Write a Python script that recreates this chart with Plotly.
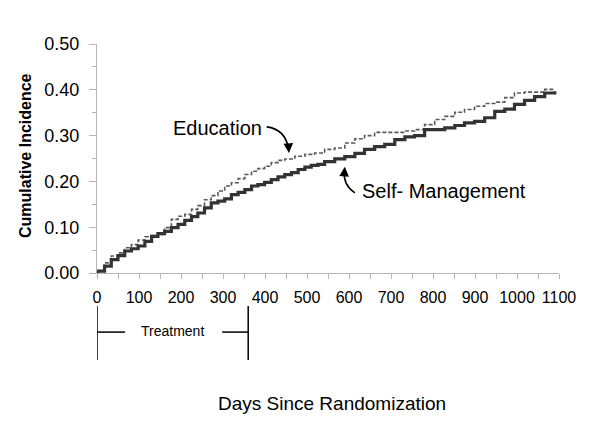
import plotly.graph_objects as go

# Education arm (dashed)
edu_days = [0, 2, 18, 34, 50, 66, 82, 98, 114, 130, 145, 161, 177, 193, 209, 225, 240, 256, 272, 288,
            304, 320, 336, 352, 368, 383, 399, 415, 431, 447, 471, 495, 518, 542, 566, 590, 614, 637,
            661, 685, 709, 733, 756, 780, 804, 828, 852, 875, 899, 923, 947, 971, 994, 1018, 1042,
            1066, 1090]
edu_vals = [0.0, 0.005, 0.022, 0.037, 0.044, 0.055, 0.062, 0.072, 0.079, 0.082, 0.084, 0.099, 0.117,
            0.124, 0.128, 0.139, 0.147, 0.160, 0.169, 0.179, 0.190, 0.197, 0.206, 0.215, 0.222, 0.228,
            0.233, 0.241, 0.246, 0.249, 0.255, 0.259, 0.262, 0.270, 0.273, 0.284, 0.293, 0.300, 0.307,
            0.307, 0.307, 0.310, 0.313, 0.324, 0.335, 0.342, 0.351, 0.357, 0.364, 0.370, 0.373, 0.383,
            0.393, 0.395, 0.395, 0.401, 0.402]

# Self-Management arm (solid)
sm_days = [0, 2, 18, 34, 50, 66, 82, 98, 114, 130, 145, 161, 177, 193, 209, 225, 240, 256, 272, 288,
           304, 320, 336, 352, 368, 383, 399, 415, 431, 447, 463, 479, 495, 510, 526, 542, 566, 590,
           614, 637, 661, 685, 709, 733, 756, 780, 804, 828, 852, 875, 899, 923, 947, 971, 994, 1018,
           1042, 1066, 1090]
sm_vals = [0.0, 0.004, 0.015, 0.029, 0.038, 0.048, 0.053, 0.059, 0.069, 0.080, 0.086, 0.091, 0.099,
           0.106, 0.115, 0.123, 0.131, 0.142, 0.153, 0.157, 0.162, 0.171, 0.176, 0.182, 0.190, 0.193,
           0.198, 0.204, 0.210, 0.215, 0.219, 0.226, 0.231, 0.235, 0.237, 0.243, 0.249, 0.254, 0.261,
           0.270, 0.276, 0.281, 0.291, 0.297, 0.300, 0.313, 0.313, 0.317, 0.322, 0.328, 0.331, 0.339,
           0.353, 0.358, 0.368, 0.377, 0.385, 0.393, 0.397]

x_ticks = list(range(0, 1101, 100))
y_ticks = [0.0, 0.1, 0.2, 0.3, 0.4, 0.5]
treatment_end = 360

FONT = "Liberation Sans, Arial, sans-serif"

fig = go.Figure()
fig.add_trace(go.Scatter(x=edu_days, y=edu_vals, mode="lines", line_shape="hv",
                         line=dict(color="#5a5a5a", width=1.6, dash="4px,2px"), name="Education"))
fig.add_trace(go.Scatter(x=sm_days, y=sm_vals, mode="lines", line_shape="hv",
                         line=dict(color="#333333", width=3.2), name="Self- Management"))

# curved arrows
fig.add_shape(type="path", xref="x", yref="y",
              path="M 404,0.319 Q 448,0.314 456,0.272", line=dict(color="black", width=1.6))
fig.add_annotation(x=457, y=0.262, ax=456, ay=0.276, axref="x", ayref="y", xref="x", yref="y",
                   text="", showarrow=True, arrowhead=2, arrowsize=1.2, arrowwidth=1.6, arrowcolor="black")
fig.add_shape(type="path", xref="x", yref="y",
              path="M 614,0.175 Q 586,0.192 589,0.222", line=dict(color="black", width=1.6))
fig.add_annotation(x=590, y=0.232, ax=589, ay=0.219, axref="x", ayref="y", xref="x", yref="y",
                   text="", showarrow=True, arrowhead=2, arrowsize=1.2, arrowwidth=1.6, arrowcolor="black")

fig.add_annotation(x=288, y=0.317, xref="x", yref="y", text="Education", showarrow=False,
                   font=dict(family=FONT, size=20, color="black"))
fig.add_annotation(x=825, y=0.179, xref="x", yref="y", text="Self- Management", showarrow=False,
                   font=dict(family=FONT, size=20, color="black"))

# Treatment bracket
for xv in [0, treatment_end]:
    fig.add_shape(type="line", xref="x", yref="paper", x0=xv, x1=xv, y0=-0.144, y1=-0.38,
                  line=dict(color="black", width=1.5))
fig.add_shape(type="line", xref="x", yref="paper", x0=0, x1=67, y0=-0.258, y1=-0.258,
              line=dict(color="black", width=1.5))
fig.add_shape(type="line", xref="x", yref="paper", x0=298, x1=treatment_end, y0=-0.258, y1=-0.258,
              line=dict(color="black", width=1.5))
fig.add_annotation(x=179, y=-0.255, xref="x", yref="paper", text="Treatment", showarrow=False,
                   xanchor="center", yanchor="middle",
                   font=dict(family=FONT, size=14, color="black"))

# axis titles
fig.add_annotation(x=-0.156, y=0.515, xref="paper", yref="paper", text="<b>Cumulative Incidence</b>",
                   textangle=-90, showarrow=False, xanchor="center", yanchor="middle",
                   font=dict(family=FONT, size=16, color="black"))
fig.add_annotation(x=0.508, y=-0.568, xref="paper", yref="paper", text="Days Since Randomization",
                   showarrow=False, xanchor="center", yanchor="middle",
                   font=dict(family=FONT, size=19, color="black"))

fig.update_layout(
    width=600, height=424,
    margin=dict(l=89, r=49, t=36, b=159),
    plot_bgcolor="white", paper_bgcolor="white",
    showlegend=False,
    font=dict(family=FONT, color="black"),
)
fig.update_xaxes(range=[0, 1100], tickvals=x_ticks, ticktext=[str(v) for v in x_ticks],
                 showgrid=False, zeroline=False, showline=True, linecolor="#b5b5b5", linewidth=1,
                 ticks="outside", ticklen=5, tickcolor="#b5b5b5",
                 minor=dict(dtick=50, ticks="outside", ticklen=5, tickcolor="#b5b5b5"),
                 tickfont=dict(family=FONT, size=16, color="black"), ticklabelstandoff=5)
fig.update_yaxes(range=[0, 0.5], tickvals=y_ticks, ticktext=[f"{v:.2f}" for v in y_ticks],
                 showgrid=False, zeroline=False, showline=True, linecolor="#b5b5b5", linewidth=1,
                 ticks="outside", ticklen=7, tickcolor="#b5b5b5",
                 minor=dict(dtick=0.05, ticks="outside", ticklen=4, tickcolor="#b5b5b5"),
                 tickfont=dict(family=FONT, size=18, color="black"), ticklabelstandoff=6)

fig.write_html("out.html")
